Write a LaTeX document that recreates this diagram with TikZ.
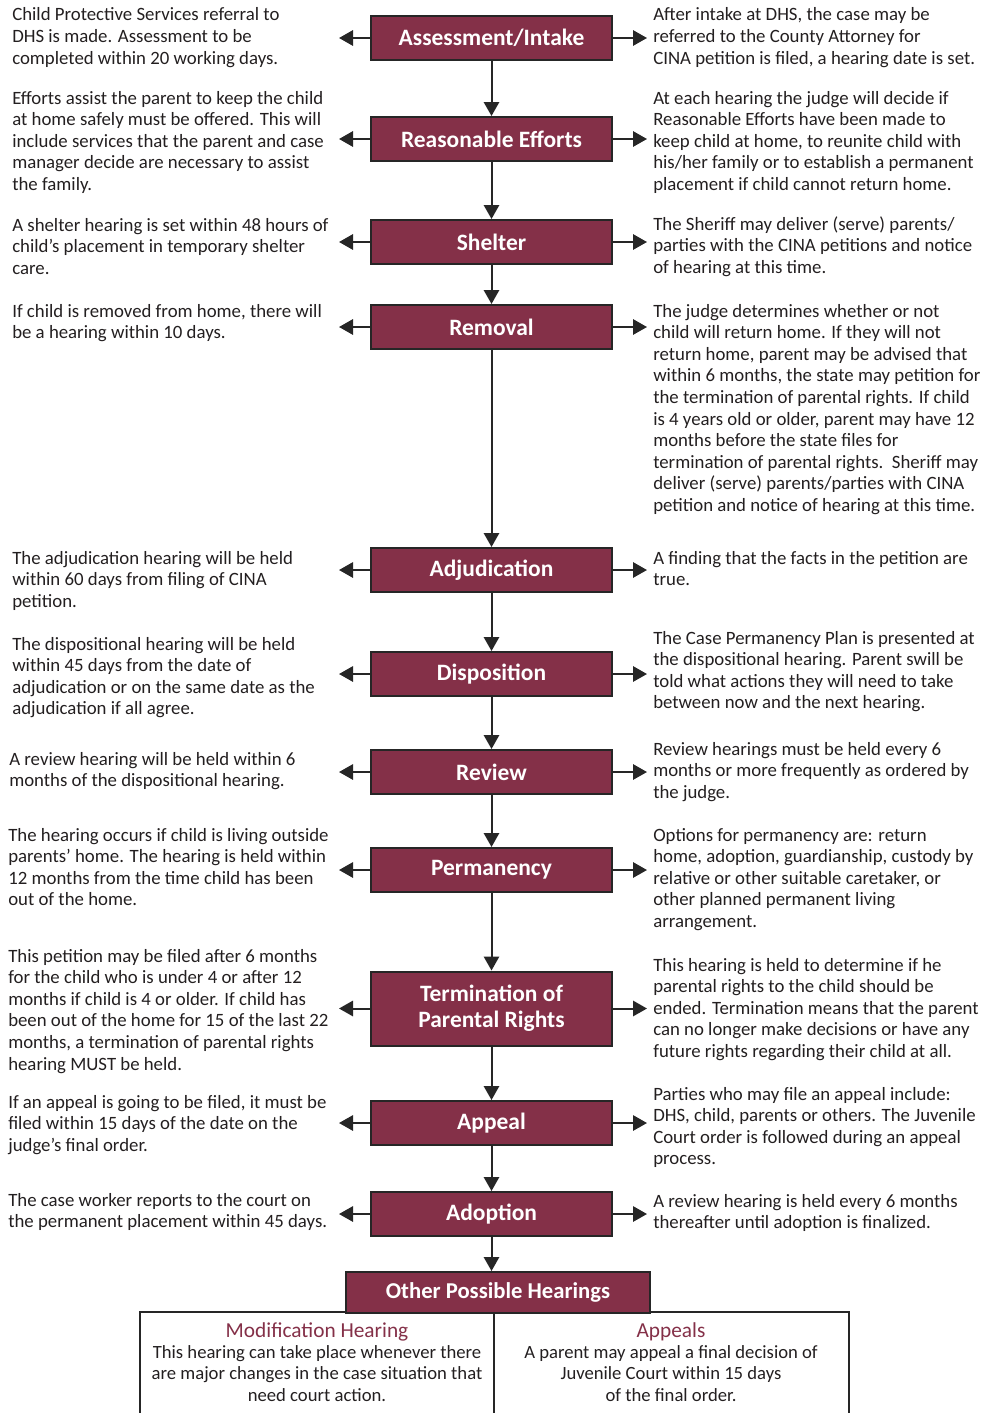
\documentclass[tikz,border=0pt]{standalone}
\usepackage{fontspec}
\setmainfont{Carlito}
\usetikzlibrary{arrows.meta}
\definecolor{boxred}{RGB}{132,48,72}
\definecolor{ink}{RGB}{35,31,32}
\definecolor{edge}{RGB}{38,38,38}
\begin{document}
\begin{tikzpicture}[x=0.75pt,y=-0.75pt,
  stage/.style={draw=edge, line width=1.5pt, fill=boxred, text=white,
    font=\bfseries\fontsize{17.6}{19.2}\selectfont, minimum width=180.75pt,
    minimum height=33pt, inner sep=0pt, align=center},
  desc/.style={inner sep=0pt, align=left, text=ink,
    font=\fontsize{14.1}{16.2}\selectfont, anchor=base west},
  subhead/.style={inner sep=0pt, text=boxred, anchor=base,
    font=\fontsize{16}{16.2}\selectfont},
  subbody/.style={inner sep=0pt, text=ink, anchor=base, align=center,
    font=\fontsize{14}{16.2}\selectfont},
  link/.style={draw=edge, line width=1.5pt, -{Triangle[length=10.5pt,width=11.5pt]}},
  frame/.style={draw=edge, line width=1.5pt},
]
\useasboundingbox (0,0) rectangle (982,1413);
\clip (0,0) rectangle (982,1413);
\def\ls{21.6}

% bottom frame
\draw[frame] (140,1312) rectangle (849,1440);

% stages
\node[stage] (s1) at (491.5,38) {Assessment/Intake};
\node[stage] (s2) at (491.5,139) {Reasonable Efforts};
\node[stage] (s3) at (491.5,242) {Shelter};
\node[stage] (s4) at (491.5,327) {Removal};
\node[stage] (s5) at (491.5,570) {Adjudication};
\node[stage] (s6) at (491.5,674) {Disposition};
\node[stage] (s7) at (491.5,772) {Review};
\node[stage] (s8) at (491.5,870) {Permanency};
\node[stage, minimum height=55.5pt] (s9) at (491.5,1008.5) {Termination of\\Parental Rights};
\node[stage] (s10) at (491.5,1123) {Appeal};
\node[stage] (s11) at (491.5,1214) {Adoption};
\node[stage, minimum width=228pt, minimum height=30.75pt,
  font=\bfseries\fontsize{17}{19}\selectfont] (oph) at (498,1292.5) {Other Possible Hearings};

\foreach \i in {1,...,11}{
  \path (s\i.west) ++(-31,0) coordinate (s\i L);
  \path (s\i.east) ++(34,0) coordinate (s\i R);
  \draw[link] (s\i.west) -- (s\i L);
  \draw[link] (s\i.east) -- (s\i R);
}
\foreach \i [evaluate=\i as \j using int(\i+1)] in {1,...,10}{
  \draw[link] (s\i) -- (s\j);
}
\draw[link] (s11.south) -- (s11.south |- oph.north);
\coordinate (midB) at (494,1440);
\draw[frame] (oph.south -| midB) -- (midB);

% left texts (anchor = baseline of last line)
\node[desc] (l1) at (12,{21+2*\ls}) {Child Protective Services referral to\\DHS is made. Assessment to be\\completed within 20 working days.};
\node[desc] (l2) at (12,{104+4*\ls}) {Efforts assist the parent to keep the child\\at home safely must be offered. This will\\include services that the parent and case\\manager decide are necessary to assist\\the family.};
\node[desc] (l3) at (12,{231+2*\ls}) {A shelter hearing is set within 48 hours of\\child’s placement in temporary shelter\\care.};
\node[desc] (l4) at (12,{317+1*\ls}) {If child is removed from home, there will\\be a hearing within 10 days.};
\node[desc] (l5) at (12,{564+2*\ls}) {The adjudication hearing will be held\\within 60 days from filing of CINA\\petition.};
\node[desc] (l6) at (12,{650+3*\ls}) {The dispositional hearing will be held\\within 45 days from the date of\\adjudication or on the same date as the\\adjudication if all agree.};
\node[desc] (l7) at (9,{765+1*\ls}) {A review hearing will be held within 6\\months of the dispositional hearing.};
\node[desc] (l8) at (8,{841+3*\ls}) {The hearing occurs if child is living outside\\parents’ home. The hearing is held within\\12 months from the time child has been\\out of the home.};
\node[desc] (l9) at (8,{962+5*\ls}) {This petition may be filed after 6 months\\for the child who is under 4 or after 12\\months if child is 4 or older. If child has\\been out of the home for 15 of the last 22\\months, a termination of parental rights\\hearing MUST be held.};
\node[desc] (l10) at (8,{1108+2*\ls}) {If an appeal is going to be filed, it must be\\filed within 15 days of the date on the\\judge’s final order.};
\node[desc] (l11) at (8,{1206+1*\ls}) {The case worker reports to the court on\\the permanent placement within 45 days.};

% right texts
\node[desc] (r1) at (653,{21+2*\ls}) {After intake at DHS, the case may be\\referred to the County Attorney for\\CINA petition is filed, a hearing date is set.};
\node[desc] (r2) at (653,{104+4*\ls}) {At each hearing the judge will decide if\\Reasonable Efforts have been made to\\keep child at home, to reunite child with\\his/her family or to establish a permanent\\placement if child cannot return home.};
\node[desc] (r3) at (653,{230+2*\ls}) {The Sheriff may deliver (serve) parents/\\parties with the CINA petitions and notice\\of hearing at this time.};
\node[desc] (r4) at (653,{317+9*\ls}) {The judge determines whether or not\\child will return home. If they will not\\return home, parent may be advised that\\within 6 months, the state may petition for\\the termination of parental rights. If child\\is 4 years old or older, parent may have 12\\months before the state files for\\termination of parental rights.\ \ Sheriff may\\deliver (serve) parents/parties with CINA\\petition and notice of hearing at this time.};
\node[desc] (r5) at (653,{564+1*\ls}) {A finding that the facts in the petition are\\true.};
\node[desc] (r6) at (653,{644+3*\ls}) {The Case Permanency Plan is presented at\\the dispositional hearing. Parent swill be\\told what actions they will need to take\\between now and the next hearing.};
\node[desc] (r7) at (653,{755+2*\ls}) {Review hearings must be held every 6\\months or more frequently as ordered by\\the judge.};
\node[desc] (r8) at (653,{841+4*\ls}) {Options for permanency are: return\\home, adoption, guardianship, custody by\\relative or other suitable caretaker, or\\other planned permanent living\\arrangement.};
\node[desc] (r9) at (653,{971+4*\ls}) {This hearing is held to determine if he\\parental rights to the child should be\\ended. Termination means that the parent\\can no longer make decisions or have any\\future rights regarding their child at all.};
\node[desc] (r10) at (653,{1100+3*\ls}) {Parties who may file an appeal include:\\DHS, child, parents or others. The Juvenile\\Court order is followed during an appeal\\process.};
\node[desc] (r11) at (653,{1207+1*\ls}) {A review hearing is held every 6 months\\thereafter until adoption is finalized.};

% bottom texts
\node[subhead] (mh) at (317,1337) {Modification Hearing};
\node[subbody] (mhb) at (317,{1358+2*\ls}) {This hearing can take place whenever there\\are major changes in the case situation that\\need court action.};
\node[subhead] (ap) at (671,1337) {Appeals};
\node[subbody] (apb) at (671,{1358+2*\ls}) {A parent may appeal a final decision of\\Juvenile Court within 15 days\\of the final order.};
\end{tikzpicture}
\end{document}
